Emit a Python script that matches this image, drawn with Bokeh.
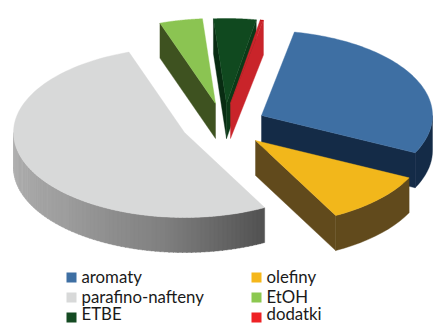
import numpy as np
from bokeh.embed import file_html
from bokeh.resources import INLINE
from bokeh.plotting import figure

# Udzial skladnikow paliwa, w procentach
categories = ["aromaty", "olefiny", "parafino-nafteny", "EtOH", "ETBE", "dodatki"]
shares = [29.15, 10.0, 52.5, 4.05, 4.0, 0.3]

top_colors = ["#3E6FA3", "#F2B71B", "#D8D9D9", "#8BC452", "#10491F", "#C9242A"]
wall_colors = ["#142B47", "#614A1C", "#8A8A8A", "#3E5220", "#082C12", "#C9242A"]
swatch_colors = ["#3E6FA3", "#F5B71B", "#D8D9D9", "#8CC850", "#144A22", "#EE2225"]

# Pixel position of each exploded slice's apex on the page
apex = {
    "aromaty": (261, 115),
    "olefiny": (255, 140),
    "parafino-nafteny": (184, 132),
    "EtOH": (215, 103),
    "ETBE": (226, 103),
    "dodatki": (230, 103),
}
RX, RY, DEPTH = 171, 85, 35
START_DEG = 281.1

p = figure(width=435, height=324, x_range=(0, 435), y_range=(324, 0),
           output_backend="svg", toolbar_location=None, min_border=0)
p.axis.visible = False
p.grid.visible = False
p.outline_line_color = None
p.background_fill_color = "#FFFFFF"
p.border_fill_color = "#FFFFFF"


def rim(name, t0, t1, n=90):
    t = np.radians(np.linspace(t0, t1, n))
    cx, cy = apex[name]
    return cx + RX * np.cos(t), cy + RY * np.sin(t)


def fill(xs, ys, color):
    p.patch(list(xs), list(ys), fill_color=color, line_color=color, line_width=0.4)


def radial_wall(name, t, color):
    cx, cy = apex[name]
    x, y = rim(name, t, t, 1)
    fill([cx, x[0], x[0], cx], [cy, y[0], y[0] + DEPTH, cy + DEPTH], color)


def outer_wall(name, t0, t1, color):
    x, y = rim(name, t0, t1, 12)
    fill(np.r_[x, x[::-1]], np.r_[y, y[::-1] + DEPTH], color)


def shaded_wall(name, t0, t1):
    # The grey slice's rim darkens from the lit left side to the front right
    edges = np.arange(t0, t1 + 1.5, 1.5)
    for a, b in zip(edges[:-1], edges[1:]):
        f = (min(b, t1) - t0) / (t1 - t0)
        level = int(np.interp(f, [0.0, 0.3, 0.62, 1.0], [80, 128, 158, 178]))
        outer_wall(name, a, min(b + 0.3, t1), f"#{level:02x}{level:02x}{level:02x}")


cum = np.cumsum([0] + shares) * 3.6 + START_DEG
angles = {c: (cum[i], cum[i + 1]) for i, c in enumerate(categories)}
styles = {c: (top_colors[i], wall_colors[i]) for i, c in enumerate(categories)}


def top_face(name):
    t0, t1 = angles[name]
    x, y = rim(name, t0, t1)
    cx, cy = apex[name]
    fill(np.r_[cx, x], np.r_[cy, y], styles[name][0])


# Back slices first, front slices last
t0, t1 = angles["EtOH"]
radial_wall("EtOH", t0, styles["EtOH"][1])
top_face("EtOH")

t0, t1 = angles["ETBE"]
radial_wall("ETBE", t0, styles["ETBE"][1])
radial_wall("ETBE", t1, "#0B3A18")
top_face("ETBE")

t0, t1 = angles["dodatki"]
radial_wall("dodatki", t1, styles["dodatki"][1])
top_face("dodatki")

t0, t1 = angles["parafino-nafteny"]
shaded_wall("parafino-nafteny", t0 - 360, 180)
top_face("parafino-nafteny")

t0, t1 = angles["aromaty"]
outer_wall("aromaty", 360, t1, styles["aromaty"][1])
radial_wall("aromaty", t1, styles["aromaty"][1])
top_face("aromaty")

t0, t1 = angles["olefiny"]
outer_wall("olefiny", t0, t1, styles["olefiny"][1])
radial_wall("olefiny", t1, styles["olefiny"][1])
top_face("olefiny")

# Two-column legend below the pie, filled row by row
col_x = [66, 251]
row_y = [277, 297, 317]
label_y = [276, 296, 313]
sw = dict(zip(categories, swatch_colors))
for i, name in enumerate(categories):
    x = col_x[i % 2]
    p.rect([x + 5], [row_y[i // 2]], width=10, height=10, fill_color=sw[name], line_color=None)
    p.text([x + 15], [label_y[i // 2]], text=[name], text_font={"value": "Lato"},
           text_font_size="16.8px", text_baseline="middle", text_color="#1A1A1A")

open("out.html", "w").write(file_html(p, INLINE))
